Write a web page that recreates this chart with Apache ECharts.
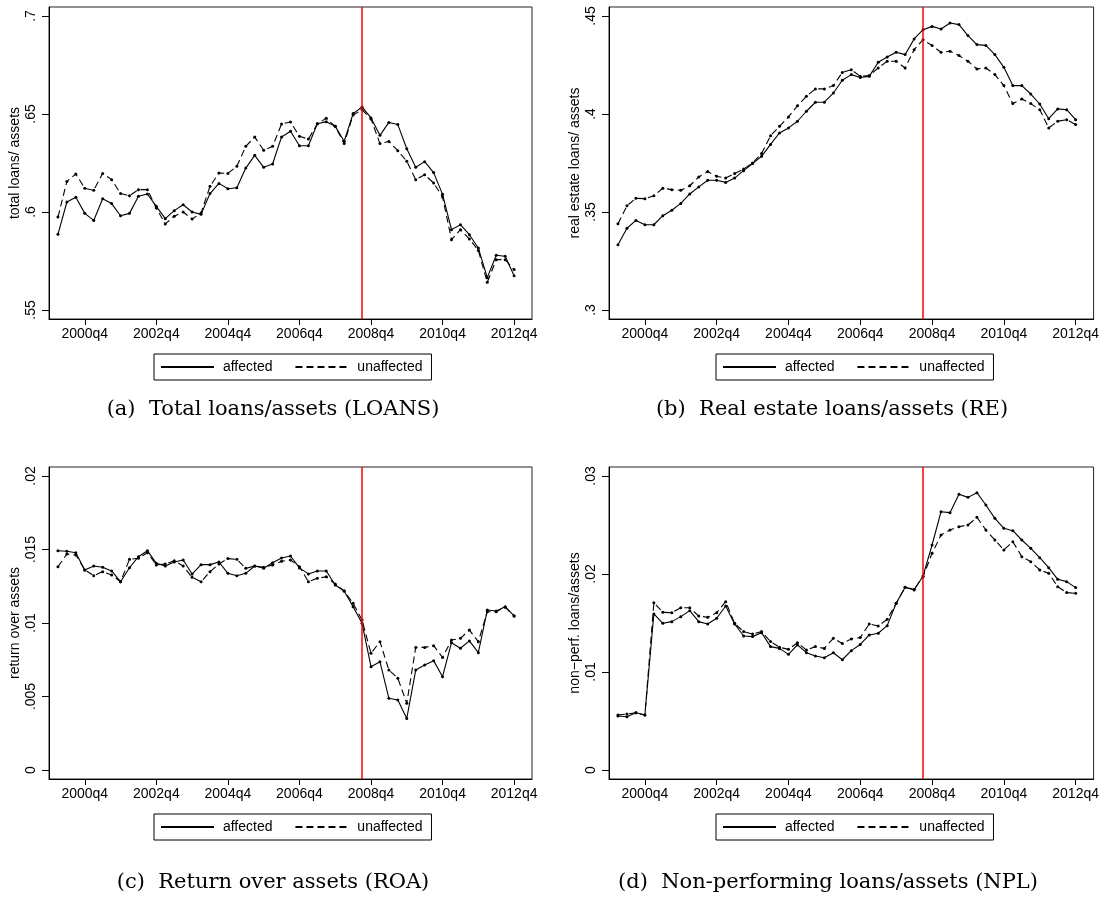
<!DOCTYPE html>
<html><head><meta charset="utf-8">
<script src="https://cdn.jsdelivr.net/npm/echarts@6/dist/echarts.min.js"></script>
<style>html,body{margin:0;padding:0;background:#fff}#c{width:1102px;height:899px}</style>
</head><body><div id="c"></div>
<script>
// ---------- data ----------
const quarters = ['2000q1','2000q2','2000q3','2000q4','2001q1','2001q2','2001q3','2001q4',
  '2002q1','2002q2','2002q3','2002q4','2003q1','2003q2','2003q3','2003q4',
  '2004q1','2004q2','2004q3','2004q4','2005q1','2005q2','2005q3','2005q4',
  '2006q1','2006q2','2006q3','2006q4','2007q1','2007q2','2007q3','2007q4',
  '2008q1','2008q2','2008q3','2008q4','2009q1','2009q2','2009q3','2009q4',
  '2010q1','2010q2','2010q3','2010q4','2011q1','2011q2','2011q3','2011q4',
  '2012q1','2012q2','2012q3','2012q4'];
const xTickLabels = ['2000q4','2002q4','2004q4','2006q4','2008q4','2010q4','2012q4'];
const crisisQuarter = '2008q3';
const seriesNames = ['affected','unaffected'];

const loansAffected = [.5886,.6051,.6075,.5993,.5957,.6068,.6043,.5981,.5993,.6080,
  .6092,.6029,.5966,.6007,.6037,.6000,.5988,.6094,.6146,.6119,
  .6124,.6224,.6289,.6228,.6245,.6383,.6412,.6338,.6338,.6450,
  .6461,.6437,.6361,.6502,.6536,.6480,.6391,.6457,.6446,.6323,
  .6228,.6257,.6201,.6090,.5910,.5935,.5884,.5816,.5665,.5779,
  .5774,.5675];
const loansUnaffected = [.5974,.6156,.6194,.6121,.6111,.6197,.6165,.6094,.6083,.6114,
  .6114,.6020,.5939,.5978,.6000,.5964,.5995,.6131,.6199,.6197,
  .6233,.6335,.6383,.6315,.6335,.6449,.6459,.6386,.6372,.6450,
  .6478,.6437,.6349,.6495,.6522,.6475,.6349,.6360,.6313,.6259,
  .6165,.6190,.6148,.6077,.5859,.5910,.5862,.5804,.5641,.5757,
  .5757,.5706];
const reAffected = [.3333,.3417,.3457,.3435,.3435,.3481,.3509,.3544,.3592,.3628,
  .3662,.3662,.3651,.3673,.3711,.3747,.3784,.3845,.3903,.3929,
  .3963,.4014,.4060,.4060,.4107,.4172,.4201,.4186,.4192,.4264,
  .4291,.4315,.4303,.4383,.4430,.4447,.4434,.4464,.4456,.4400,
  .4354,.4350,.4303,.4238,.4145,.4145,.4102,.4051,.3976,.4026,
  .4022,.3971];
const reUnaffected = [.3440,.3532,.3570,.3568,.3583,.3621,.3614,.3611,.3634,.3679,
  .3706,.3682,.3673,.3696,.3719,.3750,.3798,.3889,.3937,.3985,
  .4042,.4090,.4128,.4128,.4145,.4212,.4226,.4192,.4196,.4235,
  .4269,.4269,.4235,.4328,.4379,.4349,.4315,.4320,.4298,.4269,
  .4230,.4235,.4201,.4145,.4053,.4077,.4053,.4022,.3929,.3963,
  .3971,.3946];
const roaAffected = [.01492,.01488,.01478,.01361,.01388,.01379,.01354,.01281,.01376,.01451,
  .01492,.01406,.01388,.01415,.01429,.01333,.01397,.01397,.01415,.01338,
  .01322,.01338,.01388,.01372,.01410,.01442,.01456,.01375,.01334,.01354,
  .01354,.01259,.01218,.01111,.00998,.00703,.00737,.00488,.00476,.00351,
  .00680,.00714,.00744,.00635,.00866,.00828,.00878,.00798,.01088,.01082,
  .01111,.01048];
const roaUnaffected = [.01383,.01469,.01463,.01361,.01322,.01349,.01327,.01281,.01433,.01440,
  .01478,.01395,.01401,.01424,.01388,.01311,.01281,.01349,.01401,.01438,
  .01433,.01372,.01388,.01379,.01395,.01420,.01429,.01383,.01281,.01304,
  .01315,.01265,.01218,.01134,.01020,.00794,.00873,.00680,.00624,.00454,
  .00834,.00834,.00846,.00766,.00884,.00896,.00952,.00873,.01077,.01077,
  .01107,.01048];
const nplAffected = [.00551,.00544,.00585,.00561,.01592,.01497,.01514,.01565,.01626,.01514,
  .01490,.01548,.01673,.01490,.01367,.01361,.01401,.01259,.01241,.01180,
  .01276,.01197,.01163,.01146,.01197,.01125,.01218,.01281,.01378,.01395,
  .01473,.01701,.01864,.01837,.01980,.02296,.02636,.02626,.02813,.02782,
  .02830,.02704,.02568,.02466,.02442,.02347,.02262,.02167,.02065,.01946,
  .01922,.01861];
const nplUnaffected = [.00561,.00571,.00585,.00561,.01707,.01609,.01605,.01656,.01656,.01571,
  .01558,.01605,.01718,.01497,.01412,.01388,.01412,.01310,.01252,.01231,
  .01299,.01224,.01259,.01241,.01344,.01290,.01338,.01352,.01490,.01469,
  .01537,.01701,.01864,.01844,.01973,.02211,.02398,.02449,.02483,.02500,
  .02578,.02449,.02347,.02245,.02330,.02177,.02126,.02041,.02007,.01871,
  .01810,.01803];

const yTicksLoans = [0.55, 0.6, 0.65, 0.7];
const yTicksRE = [0.3, 0.35, 0.4, 0.45];
const yTicksROA = [0, 0.005, 0.01, 0.015, 0.02];
const yTicksNPL = [0, 0.01, 0.02, 0.03];
const yTitles = ['total loans/ assets', 'real estate loans/ assets', 'return over assets', 'non\u2212perf. loans/assets'];
const captions = ['(a)  Total loans/assets (LOANS)', '(b)  Real estate loans/assets (RE)',
  '(c)  Return over assets (ROA)', '(d)  Non-performing loans/assets (NPL)'];

// ---------- layout ----------
const SANS = "'Liberation Sans', Arial, Helvetica, sans-serif";
const SERIF = "'DejaVu Serif', serif";
const layout = [
  {left: 49, top: 7, width: 483, height: 312, legL: 154, legT: 354, capX: 273, capY: 399},
  {left: 609, top: 7, width: 486, height: 312, legL: 716, legT: 354, capX: 832, capY: 399},
  {left: 49, top: 467, width: 483, height: 312, legL: 154, legT: 814, capX: 273, capY: 872},
  {left: 609, top: 467, width: 486, height: 312, legL: 716, legT: 814, capX: 828, capY: 872}
];
const panels = [
  {aff: loansAffected, un: loansUnaffected, ticks: yTicksLoans},
  {aff: reAffected, un: reUnaffected, ticks: yTicksRE},
  {aff: roaAffected, un: roaUnaffected, ticks: yTicksROA},
  {aff: nplAffected, un: nplUnaffected, ticks: yTicksNPL}
];

const xTickIdx = xTickLabels.map(q => quarters.indexOf(q));
const crisisIdx = quarters.indexOf(crisisQuarter);
const fmtY = v => (v === 0 ? '0' : String(+v.toFixed(4)).replace(/^0\./, '.'));

const grid = [], xAxis = [], yAxis = [], series = [], legend = [], title = [];
panels.forEach((p, k) => {
  const L = layout[k];
  grid.push({left: L.left, top: L.top, width: L.width, height: L.height, show: true,
    borderColor: '#222', borderWidth: 1, backgroundColor: 'transparent', containLabel: false});
  xAxis.push({type: 'value', gridIndex: k, min: -1, max: 53,
    axisLine: {show: true, onZero: false, lineStyle: {color: '#000', width: 1}},
    axisTick: {show: true, customValues: xTickIdx, length: 6, lineStyle: {color: '#000'}},
    axisLabel: {show: true, customValues: xTickIdx, formatter: v => quarters[v], margin: 8,
      fontFamily: SANS, fontSize: 14, color: '#000'},
    splitLine: {show: false}});
  const lo = p.ticks[0], hi = p.ticks[p.ticks.length - 1];
  const pad = (hi - lo) * 9 / 294;
  yAxis.push({type: 'value', gridIndex: k, min: lo - pad, max: hi + pad,
    name: yTitles[k], nameLocation: 'middle', nameRotate: 90, nameGap: 27,
    nameTextStyle: {fontFamily: SANS, fontSize: 14, color: '#000'},
    axisLine: {show: true, onZero: false, lineStyle: {color: '#000', width: 1}},
    axisTick: {show: true, customValues: p.ticks, length: 7, lineStyle: {color: '#000'}},
    axisLabel: {show: true, customValues: p.ticks, formatter: fmtY, rotate: 90, margin: 11,
      fontFamily: SANS, fontSize: 14, color: '#000'},
    splitLine: {show: false}});
  series.push({name: seriesNames[0], type: 'line', xAxisIndex: k, yAxisIndex: k,
    data: p.aff.map((v, i) => [i, v]), symbol: 'circle', symbolSize: 3,
    lineStyle: {color: '#000', width: 1.1, type: 'solid'}, itemStyle: {color: '#000'},
    emphasis: {disabled: true}, z: 3,
    markLine: {silent: true, symbol: ['none', 'none'], label: {show: false},
      lineStyle: {color: '#ff0000', width: 1.5, type: 'solid', opacity: 1},
      data: [{xAxis: crisisIdx}]}});
  series.push({name: seriesNames[1], type: 'line', xAxisIndex: k, yAxisIndex: k,
    data: p.un.map((v, i) => [i, v]), symbol: 'circle', symbolSize: 3,
    lineStyle: {color: '#000', width: 1.1, type: [7, 4]}, itemStyle: {color: '#000'},
    emphasis: {disabled: true}, z: 3});
  legend.push({data: seriesNames, left: L.legL, top: L.legT, orient: 'horizontal',
    padding: [6, 9, 6, 6], itemGap: 22, itemWidth: 53, itemHeight: 14,
    borderColor: '#000', borderWidth: 1, selectedMode: false,
    formatter: n => ' ' + n, itemStyle: {opacity: 0},
    textStyle: {fontFamily: SANS, fontSize: 14, color: '#000'}});
  title.push({text: captions[k], left: L.capX, top: L.capY, textAlign: 'center', padding: 0,
    textStyle: {fontFamily: SERIF, fontSize: 21, fontWeight: 'normal', color: '#000'}});
});

const chart = echarts.init(document.getElementById('c'), null, {renderer: 'canvas'});
chart.setOption({animation: false, backgroundColor: '#fff', grid, xAxis, yAxis, series, legend, title});
</script>
</body></html>
